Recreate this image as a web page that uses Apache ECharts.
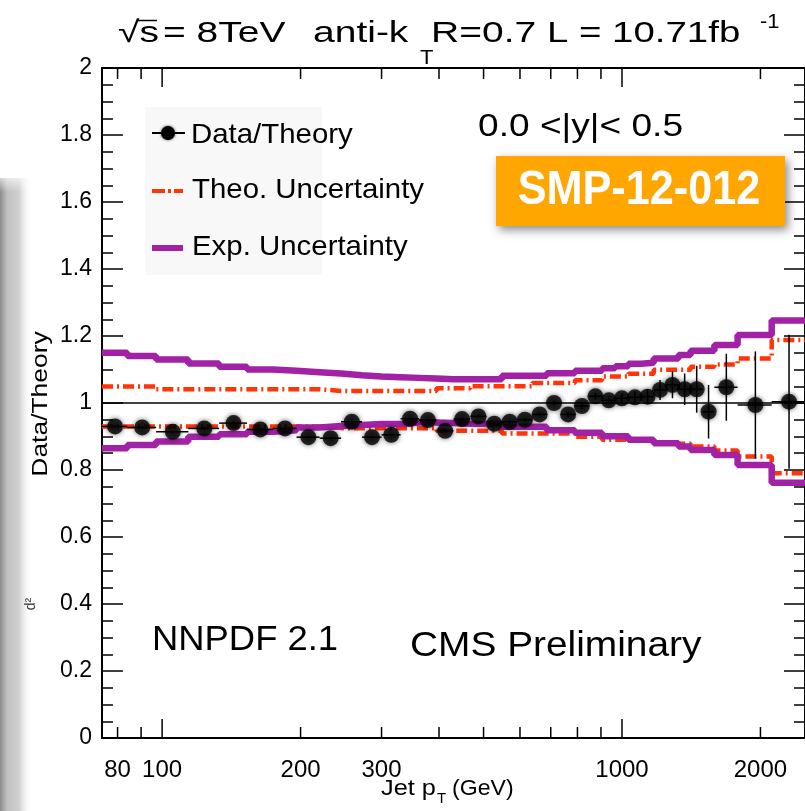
<!DOCTYPE html>
<html>
<head>
<meta charset="utf-8">
<script src="https://cdn.jsdelivr.net/npm/echarts@6/dist/echarts.min.js"></script>
<style>
  html, body { margin: 0; padding: 0; background: #fff; }
  #chart { width: 805px; height: 811px; }
</style>
</head>
<body>
<div id="chart"></div>
<script>
// Jet pT bin edges (GeV), 37 bins
const binEdges = [74, 84, 97, 114, 133, 153, 174, 196, 220, 245, 272, 300, 330, 362, 395, 430,
  468, 507, 548, 592, 638, 686, 737, 790, 846, 905, 967, 1032, 1101, 1172, 1248, 1327,
  1410, 1497, 1588, 1784, 2116, 2500];

// Data / theory ratio per bin and its statistical uncertainty
const ratio = [0.930, 0.927, 0.914, 0.924, 0.940, 0.921, 0.924, 0.898, 0.895, 0.944,
  0.898, 0.905, 0.953, 0.949, 0.917, 0.952, 0.960, 0.938, 0.944, 0.950,
  0.966, 1.000, 0.966, 0.991, 1.020, 1.008, 1.014, 1.017, 1.019, 1.039,
  1.054, 1.041, 1.041, 0.974, 1.047, 0.994, 1.004];
const ratioErr = [0.004, 0.004, 0.004, 0.004, 0.004, 0.004, 0.004, 0.004, 0.004, 0.004,
  0.004, 0.004, 0.004, 0.004, 0.004, 0.004, 0.005, 0.005, 0.005, 0.006,
  0.006, 0.007, 0.008, 0.009, 0.010, 0.012, 0.014, 0.017, 0.022, 0.030,
  0.040, 0.047, 0.070, 0.080, 0.100, 0.160, 0.200];

// Theory uncertainty envelope
const theoUp = [1.049, 1.049, 1.041, 1.041, 1.041, 1.041, 1.041, 1.041, 1.036, 1.036,
  1.036, 1.036, 1.036, 1.036, 1.044, 1.044, 1.050, 1.050, 1.050, 1.050,
  1.060, 1.060, 1.060, 1.068, 1.068, 1.079, 1.079, 1.087, 1.087, 1.099,
  1.099, 1.099, 1.108, 1.108, 1.115, 1.133, 1.188];
const theoLo = [0.930, 0.930, 0.930, 0.930, 0.930, 0.930, 0.930, 0.930, 0.925, 0.925,
  0.925, 0.925, 0.925, 0.925, 0.917, 0.917, 0.917, 0.917, 0.909, 0.909,
  0.909, 0.909, 0.909, 0.899, 0.899, 0.890, 0.890, 0.890, 0.890, 0.878,
  0.878, 0.878, 0.870, 0.870, 0.858, 0.840, 0.790];

// Experimental uncertainty envelope
const expUp = [1.150, 1.140, 1.130, 1.118, 1.108, 1.100, 1.096, 1.092, 1.088, 1.083,
  1.079, 1.077, 1.075, 1.073, 1.071, 1.071, 1.071, 1.071, 1.081, 1.081,
  1.081, 1.089, 1.089, 1.096, 1.096, 1.104, 1.110, 1.117, 1.120, 1.133,
  1.133, 1.143, 1.156, 1.156, 1.173, 1.203, 1.246];
const expLo = [0.865, 0.875, 0.885, 0.899, 0.907, 0.914, 0.919, 0.927, 0.931, 0.934,
  0.937, 0.937, 0.942, 0.942, 0.940, 0.938, 0.937, 0.937, 0.929, 0.929,
  0.929, 0.919, 0.919, 0.911, 0.911, 0.901, 0.901, 0.890, 0.890, 0.880,
  0.880, 0.870, 0.860, 0.860, 0.845, 0.815, 0.762];

// Axis ticks
const xMajorTicks = [100, 1000];
const xMinorTicks = [80, 90, 200, 300, 400, 500, 600, 700, 800, 900, 2000];
const xTickLabels = [80, 100, 200, 300, 1000, 2000];

const FONT = '"Liberation Sans", Arial, Helvetica, sans-serif';
const RED = '#ff3508';
const PURPLE = '#a222a6';

// histogram outline: horizontal segment across each bin
function steps(vals) {
  const pts = [];
  vals.forEach((v, i) => { pts.push([binEdges[i], v]); pts.push([binEdges[i + 1], v]); });
  return pts;
}

const points = ratio.map((v, i) => {
  const lo = binEdges[i], hi = binEdges[i + 1];
  return [(lo + hi) / 2, v, lo, hi, ratioErr[i]];
});

// tick rows: [pT, tick length]
const tickRows = xMajorTicks.map(v => [v, 19]).concat(xMinorTicks.map(v => [v, 11]));

// x ticks drawn inward from the bottom (edge 0) or top (edge 2) frame line
function tickSeries(edge) {
  return {
    type: 'custom', data: tickRows, encode: { x: 0 }, silent: true, z: 9, clip: false,
    renderItem: function (params, api) {
      const p = api.coord([api.value(0), edge]);
      const len = api.value(1);
      const y0 = edge === 0 ? p[1] - len : p[1];
      return { type: 'rect', shape: { x: p[0] - 0.75, y: y0, width: 1.5, height: len },
        style: { fill: '#000' } };
    }
  };
}

function txt(text, x, y, size, o) {
  o = o || {};
  return {
    type: 'text', x: x, y: y, z: 50,
    scaleX: o.sx || 1, scaleY: o.sy || 1, rotation: o.rot || 0,
    style: {
      text: text, fontSize: size, fontFamily: FONT,
      fontWeight: o.bold ? 'bold' : 'normal',
      fill: o.color || '#000',
      align: o.align || 'left', verticalAlign: 'middle'
    }
  };
}

const chart = echarts.init(document.getElementById('chart'), null, { renderer: 'canvas' });

const yAxisCommon = {
  type: 'value', min: 0, max: 2, interval: 0.2,
  axisLine: { show: true, lineStyle: { color: '#000', width: 2 } },
  axisTick: { show: true, inside: true, length: 21, lineStyle: { color: '#000', width: 1.5 } },
  minorTick: { show: true, splitNumber: 4, length: 11, lineStyle: { color: '#000', width: 1.5 } },
  splitLine: { show: false }
};

chart.setOption({
  animation: false,
  backgroundColor: '#fff',
  grid: { left: 102, top: 68, width: 704, height: 670 },
  xAxis: [
    { type: 'log', logBase: 10, min: 74, max: 2500, position: 'bottom',
      axisLine: { show: true, onZero: false, lineStyle: { color: '#000', width: 2 } },
      axisTick: { show: false }, axisLabel: { show: false }, splitLine: { show: false } },
    { type: 'log', logBase: 10, min: 74, max: 2500, position: 'top',
      axisLine: { show: true, onZero: false, lineStyle: { color: '#000', width: 2 } },
      axisTick: { show: false }, axisLabel: { show: false }, splitLine: { show: false } }
  ],
  yAxis: [
    Object.assign({}, yAxisCommon, { position: 'left',
      axisLabel: { color: '#000', fontSize: 23, fontFamily: FONT, margin: 10 } }),
    Object.assign({}, yAxisCommon, { position: 'right', axisLabel: { show: false } })
  ],
  series: [
    tickSeries(0),
    tickSeries(2),
    {
      // x-axis tick labels
      type: 'custom', data: xTickLabels.map(v => [v]), encode: { x: 0 }, silent: true, z: 9, clip: false,
      renderItem: function (params, api) {
        const v = api.value(0);
        const p = api.coord([v, 0]);
        return { type: 'text', x: p[0], y: p[1] + 32,
          style: { text: String(v), fontSize: 24, fontFamily: FONT, fill: '#000',
                   align: 'center', verticalAlign: 'middle' } };
      }
    },
    {
      name: 'Theo. Uncertainty (up)', type: 'line', data: steps(theoUp), symbol: 'none', z: 3,
      lineStyle: { color: RED, width: 4.5, type: [11, 4, 2, 4], cap: 'butt' }
    },
    {
      name: 'Theo. Uncertainty (down)', type: 'line', data: steps(theoLo), symbol: 'none', z: 3,
      lineStyle: { color: RED, width: 4.5, type: [11, 4, 2, 4], cap: 'butt' }
    },
    {
      name: 'Exp. Uncertainty (up)', type: 'line', data: steps(expUp), symbol: 'none', z: 4,
      lineStyle: { color: PURPLE, width: 6.5 }
    },
    {
      name: 'Exp. Uncertainty (down)', type: 'line', data: steps(expLo), symbol: 'none', z: 4,
      lineStyle: { color: PURPLE, width: 6.5 },
      markLine: { silent: true, symbol: 'none', label: { show: false },
        lineStyle: { color: '#000', width: 1.5, type: 'solid' },
        data: [{ yAxis: 1 }] }
    },
    {
      // error bars: full bin width horizontally, stat uncertainty vertically
      type: 'custom', data: points, encode: { x: [0, 2, 3], y: 1 }, z: 6,
      renderItem: function (params, api) {
        const mid = api.value(0), y = api.value(1), lo = api.value(2), hi = api.value(3), e = api.value(4);
        const a = api.coord([lo, y]), b = api.coord([hi, y]);
        const t = api.coord([mid, y + e]), d = api.coord([mid, y - e]);
        const st = { stroke: '#000', lineWidth: 1.5 };
        return { type: 'group', children: [
          { type: 'line', shape: { x1: a[0], y1: a[1], x2: b[0], y2: b[1] }, style: st },
          { type: 'line', shape: { x1: t[0], y1: t[1], x2: d[0], y2: d[1] }, style: st }
        ] };
      }
    },
    {
      name: 'Data/Theory', type: 'scatter', data: points, encode: { x: 0, y: 1 }, z: 7,
      symbol: 'circle', symbolSize: 16,
      itemStyle: { color: '#000', shadowBlur: 5, shadowColor: 'rgba(0,0,0,0.75)' }
    }
  ],
  graphic: [
    // grey panel edge on the far left
    { type: 'rect', z: 1, shape: { x: 0, y: 178, width: 32, height: 640 },
      style: { fill: { type: 'linear', x: 0, y: 0, x2: 1, y2: 0, colorStops: [
        { offset: 0, color: '#8c8c8c' }, { offset: 0.22, color: '#c0c0c0' },
        { offset: 0.6, color: '#d0d0d0' }, { offset: 1, color: 'rgba(255,255,255,0)' }] } } },
    { type: 'rect', z: 2, shape: { x: 0, y: 170, width: 34, height: 22 },
      style: { fill: { type: 'linear', x: 0, y: 0, x2: 0, y2: 1, colorStops: [
        { offset: 0, color: 'rgba(255,255,255,1)' }, { offset: 1, color: 'rgba(255,255,255,0)' }] } } },
    txt('d²', 31, 604, 14, { rot: Math.PI / 2, color: '#333', align: 'center' }),

    // title
    txt('√s', 118, 34, 30, { sx: 1.3 }),
    { type: 'line', z: 50, shape: { x1: 137, y1: 20.5, x2: 157, y2: 20.5 }, style: { stroke: '#000', lineWidth: 1.5 } },
    txt('= 8TeV', 163, 34, 30, { sx: 1.3 }),
    txt('anti-k', 313, 34, 30, { sx: 1.3 }),
    txt('T', 420, 58, 20, { sx: 1.1 }),
    txt('R=0.7', 431, 34, 30, { sx: 1.3 }),
    txt('L = 10.71fb', 547, 34, 30, { sx: 1.28 }),
    txt('-1', 760, 22, 20, { sx: 1.1 }),

    // legend
    { type: 'rect', z: 20, shape: { x: 145, y: 107, width: 177, height: 168 }, style: { fill: '#f8f8f8' } },
    { type: 'line', z: 21, shape: { x1: 152, y1: 133, x2: 185, y2: 133 }, style: { stroke: '#000', lineWidth: 2 } },
    { type: 'circle', z: 21, shape: { cx: 168, cy: 133, r: 7 }, style: { fill: '#000', shadowBlur: 3, shadowColor: 'rgba(0,0,0,0.7)' } },
    txt('Data/Theory', 191, 135, 28, { sx: 1.05 }),
    { type: 'line', z: 21, shape: { x1: 152, y1: 191, x2: 183, y2: 191 }, style: { stroke: RED, lineWidth: 4, lineDash: [13, 3, 3, 3] } },
    txt('Theo. Uncertainty', 192, 190, 28, { sx: 1.05 }),
    { type: 'line', z: 21, shape: { x1: 152, y1: 248, x2: 183, y2: 248 }, style: { stroke: PURPLE, lineWidth: 6 } },
    txt('Exp. Uncertainty', 192, 247, 28, { sx: 1.05 }),

    // rapidity range and analysis tag
    txt('0.0 <|y|< 0.5', 478, 127, 32, { sx: 1.16 }),
    { type: 'rect', z: 30, shape: { x: 496, y: 156, width: 289, height: 70 },
      style: { fill: '#ffa600', shadowBlur: 9, shadowOffsetX: 3, shadowOffsetY: 4, shadowColor: 'rgba(0,0,0,0.45)' } },
    Object.assign(txt('SMP-12-012', 639, 191, 48, { sx: 0.9, bold: true, color: '#fff', align: 'center' }), { z: 31 }),

    // bottom annotations
    txt('NNPDF 2.1', 152, 640, 35, { sx: 1.04 }),
    txt('CMS Preliminary', 410, 646, 35, { sx: 1.11 }),

    // axis titles
    txt('Data/Theory', 41, 404, 22, { rot: Math.PI / 2, sx: 1.2, align: 'center' }),
    txt('Jet p', 381, 789, 22, { sx: 1.15 }),
    txt('T', 437, 799, 15),
    txt('(GeV)', 452, 789, 22, { sx: 1.05 })
  ]
});
</script>
</body>
</html>
